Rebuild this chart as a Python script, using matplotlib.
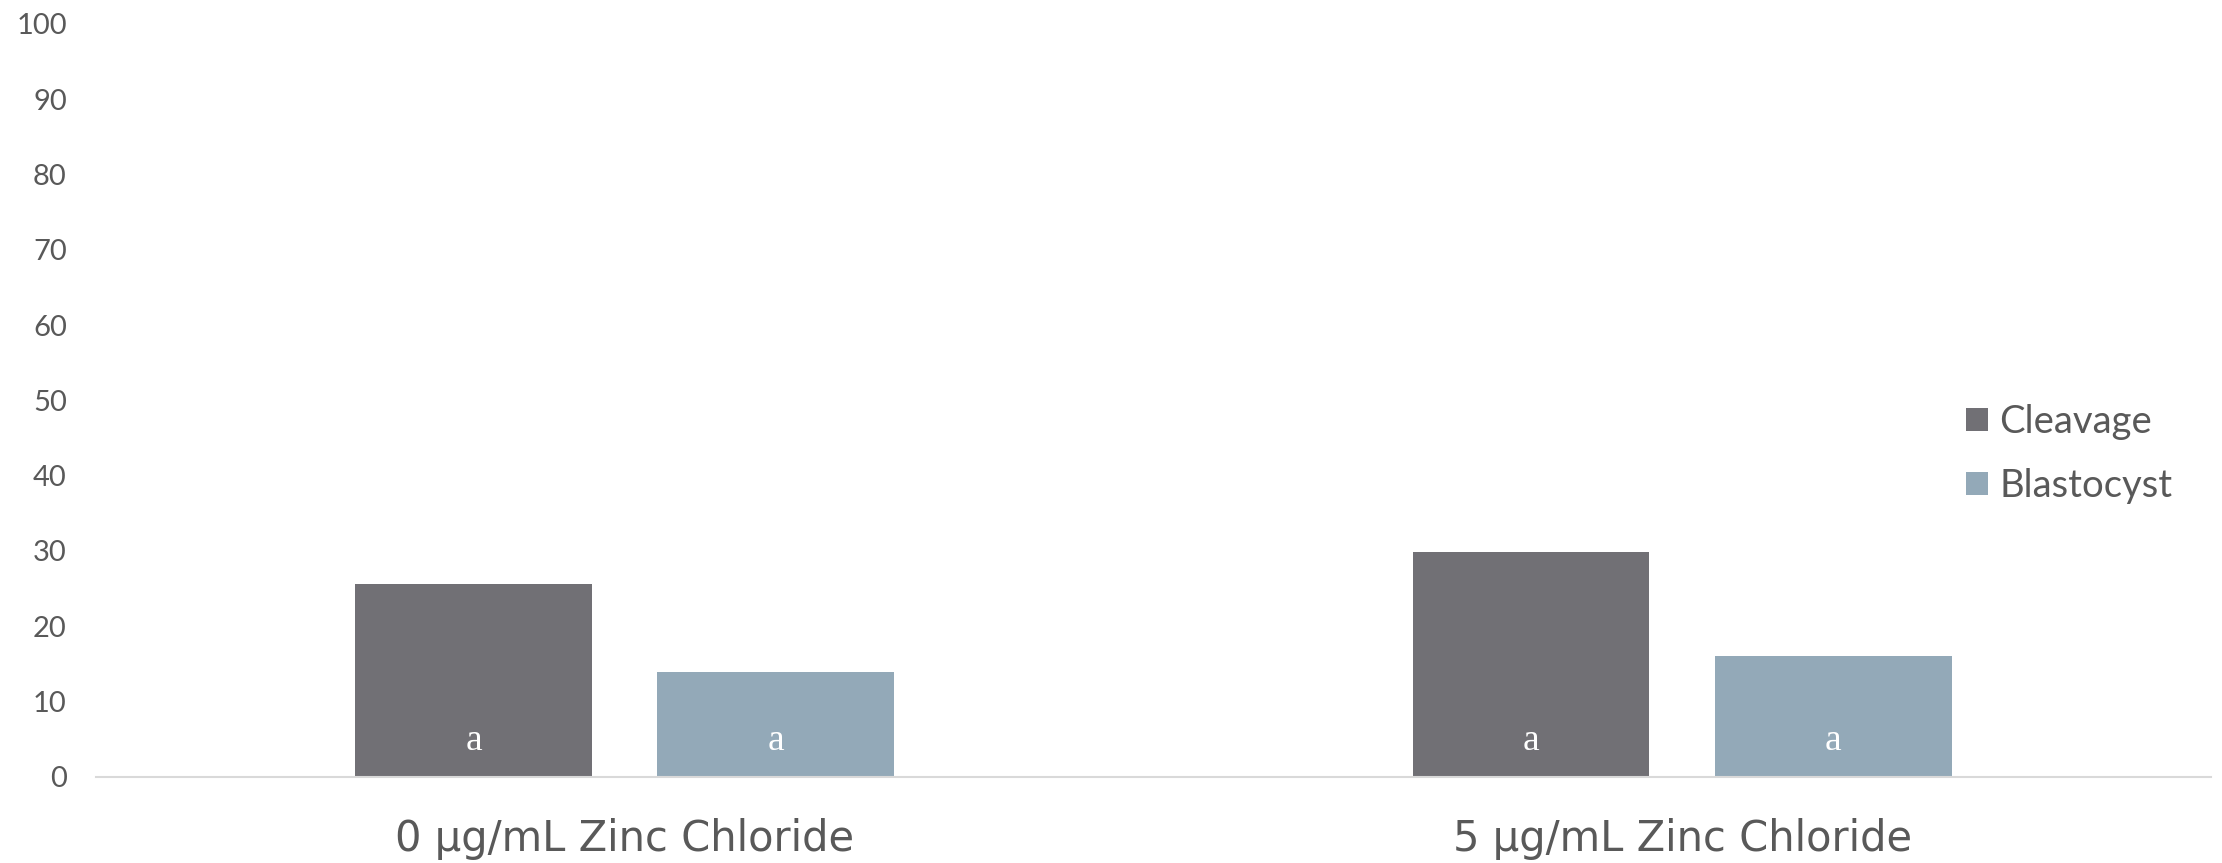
import matplotlib
matplotlib.use("Agg")
import matplotlib.pyplot as plt
import numpy as np

# data
categories = ["0 μg/mL Zinc Chloride", "5 μg/mL Zinc Chloride"]
series_names = ["Cleavage", "Blastocyst"]
cleavage = [25.6, 29.8]
blastocyst = [13.9, 16.0]
letters_cleavage = ["a", "a"]
letters_blastocyst = ["a", "a"]
yticks = list(range(0, 101, 10))

colors = ["#717075", "#93A9B8"]
text_grey = "#595959"

fig = plt.figure(figsize=(22.22, 8.63), dpi=100)
ax = fig.add_axes([0.0432, 0.1001, 0.9518, 0.8721])

x = np.arange(len(categories))
width = 0.224
offset = 0.143

for vals, letters, dx, name, col in [
    (cleavage, letters_cleavage, -offset, series_names[0], colors[0]),
    (blastocyst, letters_blastocyst, offset, series_names[1], colors[1]),
]:
    ax.bar(x + dx, vals, width, color=col, label=name, zorder=2)
    for xi, lt in zip(x + dx, letters):
        ax.text(xi, 4.7, lt, ha="center", va="center", color="white",
                fontsize=27, family="Liberation Serif", zorder=3)

ax.set_xlim(-0.5, 1.5)
ax.set_ylim(0, 100)
ax.set_yticks(yticks)
ax.set_yticklabels([str(t) for t in yticks], family="Lato", fontsize=21, color=text_grey)
ax.set_xticks(x)
ax.set_xticklabels(categories, family="DejaVu Sans", fontsize=30, color=text_grey)
ax.tick_params(axis="y", length=0, pad=21)
ax.tick_params(axis="x", length=0, pad=30)

for s in ["top", "right", "left"]:
    ax.spines[s].set_visible(False)
ax.spines["bottom"].set_color("#D9D9D9")
ax.spines["bottom"].set_linewidth(1.5)

leg = fig.legend(loc="center left", bbox_to_anchor=(0.885, 0.474), frameon=False,
                 prop={"family": "Lato", "size": 27.5}, labelcolor=text_grey,
                 handlelength=0.56, handleheight=0.56, handletextpad=0.3,
                 labelspacing=0.72, borderpad=0, borderaxespad=0)

fig.savefig("out.png", dpi=100)
